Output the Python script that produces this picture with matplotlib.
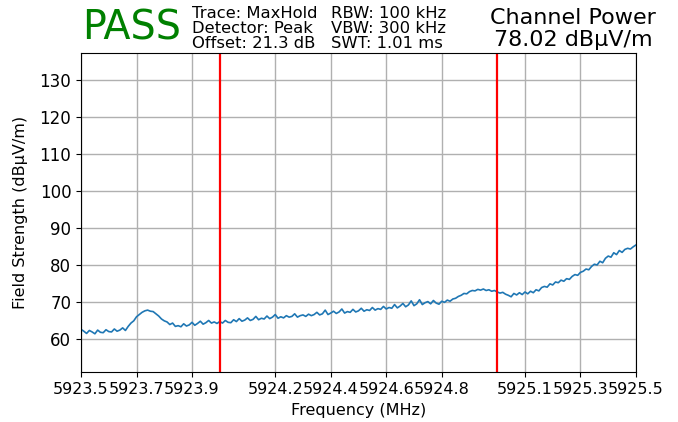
import numpy as np
import matplotlib
matplotlib.use("Agg")
import matplotlib.pyplot as plt

# ---- data ----
freq_start = 5923.5
freq_stop = 5925.5
field_strength = [
    62.6, 62.1, 61.5, 62.3, 61.9, 61.4, 62.4, 61.8, 61.7, 62.5,
    62.0, 61.9, 62.7, 62.1, 62.4, 63.0, 62.3, 63.4, 64.3, 64.9,
    66.0, 66.6, 67.2, 67.6, 67.8, 67.5, 67.4, 66.8, 66.2, 65.4,
    64.9, 64.6, 63.9, 64.3, 63.4, 63.6, 63.3, 64.1, 63.5, 63.8,
    64.5, 63.7, 64.2, 64.8, 64.0, 64.4, 65.0, 64.3, 64.6, 64.2,
    64.7, 64.3, 65.0, 64.5, 64.4, 65.2, 64.7, 65.5, 64.8, 65.1,
    65.7, 65.0, 65.3, 66.1, 65.2, 65.6, 65.4, 66.2, 65.5, 65.9,
    66.6, 65.6, 66.0, 65.7, 66.3, 65.9, 66.1, 66.8, 65.9, 66.3,
    66.5, 66.1, 66.7, 66.3, 66.6, 67.2, 66.5, 66.8, 67.8, 66.6,
    67.0, 67.5, 66.9, 67.3, 68.1, 67.0, 67.4, 67.2, 68.0, 67.3,
    67.6, 68.3, 67.5, 67.9, 67.7, 68.5, 67.8, 68.2, 68.0, 68.8,
    68.1, 68.5, 68.3, 69.3, 68.4, 68.9, 69.6, 68.7, 69.2, 70.3,
    69.0, 69.5, 70.6, 69.3, 69.8, 70.1, 69.5, 70.4, 69.7, 69.4,
    70.2, 69.9, 70.5, 70.2, 70.8, 71.0, 71.5, 71.8, 72.3, 72.2,
    72.8, 73.1, 73.0, 73.4, 73.2, 73.5, 73.1, 73.3, 72.9, 73.1,
    72.7, 72.4, 72.6, 72.1, 71.8, 71.4, 72.3, 71.9, 72.5, 72.0,
    72.7, 72.2, 72.9, 72.5, 73.3, 73.0, 73.9, 74.2, 74.0, 74.9,
    74.6, 75.4, 75.2, 75.9, 75.6, 76.3, 76.1, 76.9, 77.4, 77.2,
    78.0, 78.3, 78.9, 78.7, 79.6, 80.2, 80.0, 81.0, 80.6, 81.8,
    82.4, 82.1, 83.3, 82.8, 83.9, 83.4, 84.2, 84.5, 84.3, 84.9,
    85.4,
]
frequencies = np.linspace(freq_start, freq_stop, len(field_strength))
channel_edges = [5924.0, 5925.0]
x_ticks = [5923.5, 5923.7, 5923.9, 5924.2, 5924.4, 5924.6, 5924.8, 5925.1, 5925.3, 5925.5]
y_ticks = [60, 70, 80, 90, 100, 110, 120, 130]
status = "PASS"
settings_left = ["Trace: MaxHold", "Detector: Peak", "Offset: 21.3 dB"]
settings_right = ["RBW: 100 kHz", "VBW: 300 kHz", "SWT: 1.01 ms"]
channel_power = "78.02 dBµV/m"

# ---- figure ----
fig = plt.figure(figsize=(6.78, 4.22), dpi=100)
ax = fig.add_axes([0.1195, 0.1178, 0.8185, 0.756])

ax.plot(frequencies, field_strength, color="#1f77b4", lw=1.2)
for f in channel_edges:
    ax.axvline(f, color="red", lw=1.6)

ax.set_xlim(freq_start, freq_stop)
ax.set_ylim(51, 137.2)
ax.set_xticks(x_ticks)
ax.set_xticklabels([f"{t:.1f}" for t in x_ticks])
ax.set_yticks(y_ticks)
ax.tick_params(axis="x", labelsize=11.5)
ax.tick_params(axis="y", labelsize=12)
ax.grid(True, color="#b0b0b0", lw=1.0)
ax.set_axisbelow(True)
ax.set_xlabel("Frequency (MHz)", fontsize=11.5)
ax.set_ylabel("Field Strength (dBµV/m)", fontsize=11.5, labelpad=8)

H = 422.0
W = 678.0
fig.text(82 / W, 1 - 28.5 / H, status, color="green", fontsize=28.5, va="center", ha="left")
for i, line in enumerate(settings_left):
    fig.text(192 / W, 1 - (13.5 + 15 * i) / H, line, fontsize=11.8, va="center", ha="left")
for i, line in enumerate(settings_right):
    fig.text(331 / W, 1 - (13.5 + 15 * i) / H, line, fontsize=11.8, va="center", ha="left")
fig.text(573 / W, 1 - 17.5 / H, "Channel Power", fontsize=16, va="center", ha="center")
fig.text(573 / W, 1 - 39.5 / H, channel_power, fontsize=16, va="center", ha="center")

fig.savefig("out.png", dpi=100)
